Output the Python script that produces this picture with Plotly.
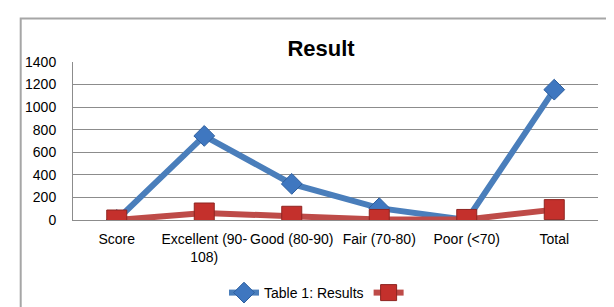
import plotly.graph_objects as go

categories = ["Score", "Excellent (90-108)", "Good (80-90)", "Fair (70-80)", "Poor (<70)", "Total"]
tick_labels = ["Score", "Excellent (90-<br>108)", "Good (80-90)", "Fair (70-80)", "Poor (<70)", "Total"]
results = [0, 745, 320, 105, 0, 1155]
second = [0, 62, 33, 5, 5, 92]
series_names = ["Table 1: Results", " "]

FONT = "Liberation Sans"

fig = go.Figure()
fig.add_trace(go.Scatter(
    x=categories, y=results, name=series_names[0], mode="lines+markers",
    line=dict(color="#4A7EBB", width=6),
    marker=dict(symbol="diamond", size=16, color="#3F77C0",
                line=dict(color="#2E5F9E", width=1)),
))
fig.add_trace(go.Scatter(
    x=categories, y=second, name=series_names[1], mode="lines+markers",
    line=dict(color="#BE4B48", width=6),
    marker=dict(symbol="square", size=20, color="#C4302C",
                line=dict(color="#8E2420", width=1)),
))

fig.update_layout(
    width=614, height=307,
    margin=dict(l=65, r=24, t=54, b=95),
    paper_bgcolor="white", plot_bgcolor="white",
    font=dict(family=FONT, size=14, color="#000000"),
    title=dict(text="<b>Result</b>", x=313/614, xref="container", xanchor="center",
               y=1-40/307, yref="container", yanchor="middle",
               font=dict(family=FONT, size=22, color="#000000")),
    showlegend=True,
    legend=dict(orientation="h", xref="container", x=216/614, xanchor="left",
                yref="container", y=1-285/307, yanchor="middle",
                font=dict(family=FONT, size=14), itemwidth=30,
                bgcolor="rgba(0,0,0,0)"),
    xaxis=dict(tickmode="array", tickvals=categories, ticktext=tick_labels,
               showgrid=False, showline=True, linecolor="#8C8C8C", linewidth=1,
               ticks="", ticklabelstandoff=6, tickfont=dict(size=14),
               range=[-0.5, 5.5], fixedrange=True),
    yaxis=dict(range=[0, 1400], dtick=200, tick0=0, showgrid=True,
               gridcolor="#8C8C8C", gridwidth=1, zeroline=False,
               showline=True, linecolor="#8C8C8C", linewidth=1,
               ticks="", ticklabelstandoff=13, tickfont=dict(size=14),
               fixedrange=True),
    shapes=[dict(type="rect", xref="paper", yref="paper",
                 x0=(12.7-65)/525, x1=1.3, y0=-1.0, y1=1+(54-10.5)/158,
                 line=dict(color="#A6A6A6", width=2), layer="below")],
)

fig.write_html("out.html")
